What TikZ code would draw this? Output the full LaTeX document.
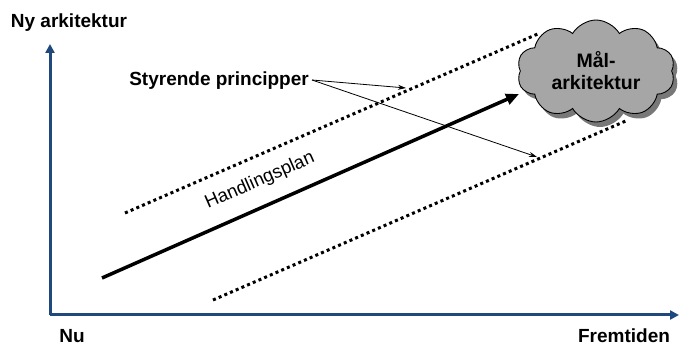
\documentclass[tikz,border=0pt]{standalone}
\usepackage{fontspec}
\setmainfont{Liberation Sans}
\usetikzlibrary{arrows.meta,shapes.symbols,shadows}
\definecolor{axisblue}{RGB}{31,73,125}
\definecolor{cloudfill}{RGB}{166,166,166}
\definecolor{cloudshadow}{RGB}{120,120,120}
\newcommand{\cloudfont}{\fontsize{19.5}{22}\selectfont\bfseries}
\tikzset{
  axisline/.style={draw=axisblue,line width=3pt,-{Triangle[length=9pt,width=9pt]}},
  biglabel/.style={font=\fontsize{19}{22}\selectfont\bfseries,inner sep=0pt},
  plainlabel/.style={font=\fontsize{18.5}{22}\selectfont,inner sep=0pt},
  mainarrow/.style={line width=3.5pt,-{Triangle[length=13pt,width=11pt]}},
  dotline/.style={line width=3pt,dash pattern=on 3pt off 3.2pt},
  thinarrow/.style={line width=0.8pt,-{Stealth[length=8pt,width=5pt]}},
  cloudbox/.style={cloud,cloud puffs=10,cloud puff arc=120,cloud ignores aspect,
    minimum width=158pt,minimum height=102pt,inner sep=0pt,draw=black,line width=0.9pt,fill=cloudfill,
    drop shadow={shadow xshift=4pt,shadow yshift=-5pt,fill=cloudshadow,opacity=1},
    align=center,font=\cloudfont}
}
\begin{document}
\begin{tikzpicture}[x=1pt,y=-1pt]
\useasboundingbox (0,0) rectangle (680,347);
% axes
\coordinate (O) at (50,315);
\coordinate (ytop) at (50,44);
\coordinate (xend) at (679,315);
\draw[axisline] (O) -- (ytop);
\draw[axisline] (O) -- (xend);
\node[biglabel] (ny) at (69,23) {Ny arkitektur};
\node[biglabel] (nu) at (72,336) {Nu};
\node[biglabel] (frem) at (624,336) {Fremtiden};
% cloud
\node[cloudbox] (cloud) at (596,71) {Mål-\\arkitektur};
% dotted lines
\coordinate (u1) at (125,213);
\coordinate (u2) at (540,33);
\coordinate (l1) at (213,300);
\coordinate (l2) at (628,120);
\draw[dotline] (u1) -- (u2);
\draw[dotline] (l1) -- (l2);
% main arrow
\coordinate (a1) at (102,278);
\coordinate (a2) at (519,94);
\draw[mainarrow] (a1) -- (a2);
\node[plainlabel,rotate=23.7] (hp) at (260,181) {Handlingsplan};
% principles
\node[biglabel,anchor=east] (sp) at (309,81) {Styrende principper};
\coordinate (t1) at (406,88);
\coordinate (t2) at (537,157);
\draw[thinarrow] ([xshift=3pt,yshift=1pt]sp.east) -- (t1);
\draw[thinarrow] ([xshift=3pt,yshift=1pt]sp.east) -- (t2);
\end{tikzpicture}
\end{document}
